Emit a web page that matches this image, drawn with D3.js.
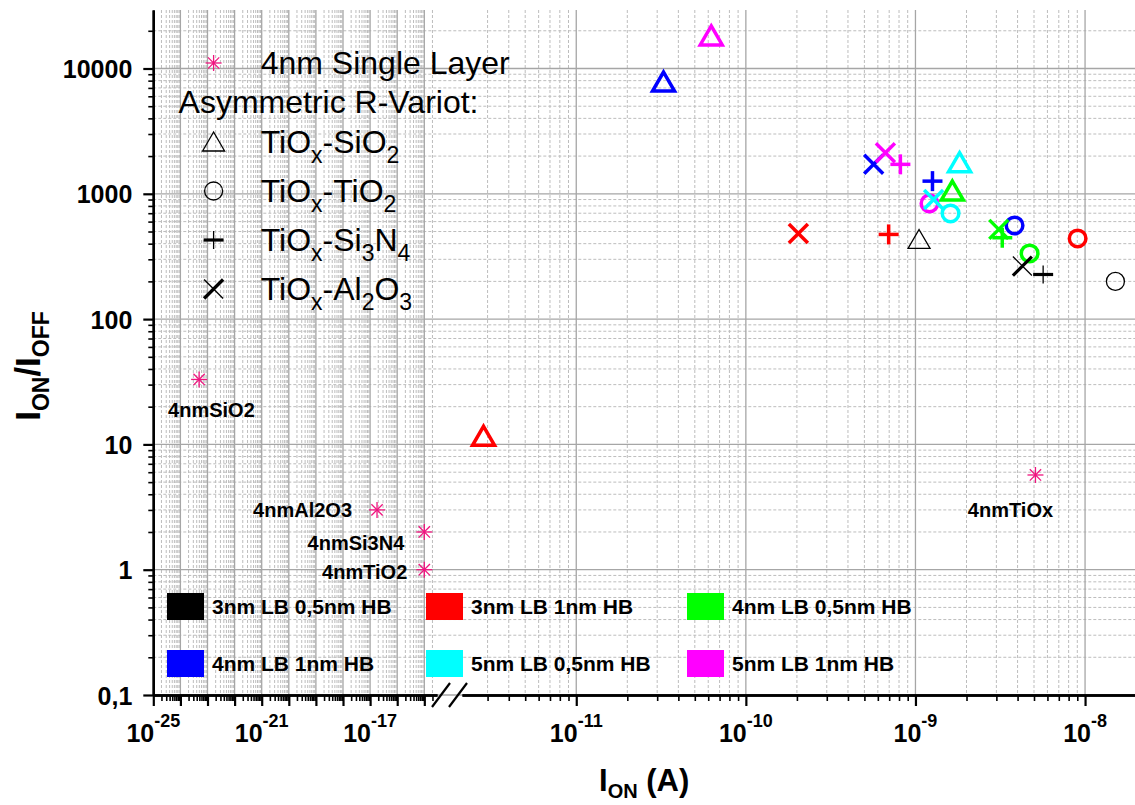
<!DOCTYPE html>
<html><head><meta charset="utf-8">
<script src="https://cdn.jsdelivr.net/npm/d3@7/dist/d3.min.js"></script>
<style>
body{margin:0;background:#fff}
svg{display:block;font-family:"Liberation Sans",Arial,Helvetica,sans-serif}
</style></head>
<body><svg id="chart" width="1135" height="805"></svg>
<script>
// ---------------- data ----------------
const seriesNames  = ["3nm LB 0,5nm HB","3nm LB 1nm HB","4nm LB 0,5nm HB","4nm LB 1nm HB","5nm LB 0,5nm HB","5nm LB 1nm HB"];
const seriesColors = ["#000000","#ff0000","#00ff00","#0000ff","#00ffff","#ff00ff"];

// I_ON (A) and I_ON/I_OFF for each bilayer stack, one entry per series (order as seriesNames)
const sio2Ion    = [1.05e-9, 2.84e-12, 1.65e-9, 3.27e-11, 1.82e-9, 6.25e-11];
const sio2Ratio  = [432, 11.6, 1051, 7800, 1772, 18190];
const tio2Ion    = [1.51e-8, 9.04e-9, 4.71e-9, 3.84e-9, 1.61e-9, 1.21e-9];
const tio2Ratio  = [200, 440, 334, 559, 697, 838];
const si3n4Ion   = [5.66e-9, 6.95e-10, 3.25e-9, 1.26e-9, null, 8.15e-10];
const si3n4Ratio = [227, 474, 446, 1262, null, 1718];
const al2o3Ion   = [4.27e-9, 2.04e-10, 3.10e-9, 5.67e-10, 1.28e-9, 6.65e-10];
const al2o3Ratio = [265, 483, 520, 1718, 902, 2130];

// 4nm single layers
const singleLabels = ["4nmSiO2","4nmAl2O3","4nmSi3N4","4nmTiO2","4nmTiOx"];
const singleIon    = [4.9e-24, 1.8e-17, 1e-15, 1e-15, 5.1e-9];
const singleRatio  = [33, 3, 2, 1, 5.7];

// axis ticks / labels
const yTickValues = [0.1, 1, 10, 100, 1000, 10000];
const yTickLabels = ["0,1", "1", "10", "100", "1000", "10000"];
const xLeftLabelExps  = [-25, -21, -17];
const xRightLabelExps = [-11, -10, -9, -8];
const xLeftDomain  = [1e-25, 2.94e-15];
const xRightDomain = [2.12e-12, 1.97e-8];
const yDomain = [0.1, 29300];

const stackNames = [
  [["TiO",0],["x",1],["-SiO",0],["2",1]],
  [["TiO",0],["x",1],["-TiO",0],["2",1]],
  [["TiO",0],["x",1],["-Si",0],["3",1],["N",0],["4",1]],
  [["TiO",0],["x",1],["-Al",0],["2",1],["O",0],["3",1]]
];
const stackSymbols = ["tri","circ","plus","cross"];
const titleSingle = "4nm Single Layer";
const titleAsym = "Asymmetric R-Variot:";

// ---------------- layout ----------------
const svg = d3.select("#chart");
const PL = 153.3, PB = 695, PT = 10, PR = 1135;
const LEFT_END = 437, RIGHT_START = 462;
const xL = d3.scaleLog().domain(xLeftDomain).range([PL, LEFT_END]);
const xR = d3.scaleLog().domain(xRightDomain).range([RIGHT_START, PR]);
const y  = d3.scaleLog().domain(yDomain).range([PB, PT]);
const xPos = v => (v < 1e-13 ? xL(v) : xR(v));

function decadeTicks(domain, major) {
  const lo = Math.floor(Math.log10(domain[0])) , hi = Math.ceil(Math.log10(domain[1]));
  const out = [];
  for (let e = lo; e <= hi; e++) {
    for (let m = (major ? 1 : 2); m <= (major ? 1 : 9); m++) {
      const v = m * Math.pow(10, e);
      if (v >= domain[0] * 0.999 && v <= domain[1] * 1.001) out.push(v);
    }
  }
  return out;
}
const xLMajor = decadeTicks(xLeftDomain, true),  xLMinor = decadeTicks(xLeftDomain, false);
const xRMajor = decadeTicks(xRightDomain, true), xRMinor = decadeTicks(xRightDomain, false);
const yMajor = decadeTicks(yDomain, true), yMinor = decadeTicks(yDomain, false);

// ---------------- grid ----------------
const grid = svg.append("g");
const minorStyle = s => s.attr("stroke", "#bdbdbd").attr("stroke-width", 1).attr("stroke-dasharray", "3,2");
const majorStyle = s => s.attr("stroke", "#a6a6a6").attr("stroke-width", 1.3);

grid.selectAll(".vminL").data(xLMinor).join("line").attr("x1", xL).attr("x2", xL).attr("y1", PT).attr("y2", PB).call(minorStyle);
grid.selectAll(".vminR").data(xRMinor).join("line").attr("x1", xR).attr("x2", xR).attr("y1", PT).attr("y2", PB).call(minorStyle);
grid.selectAll(".hmin").data(yMinor).join("line").attr("x1", PL).attr("x2", PR).attr("y1", y).attr("y2", y).call(minorStyle);
grid.selectAll(".vmajL").data(xLMajor).join("line").attr("x1", xL).attr("x2", xL).attr("y1", PT).attr("y2", PB).call(majorStyle);
grid.selectAll(".vmajR").data(xRMajor).join("line").attr("x1", xR).attr("x2", xR).attr("y1", PT).attr("y2", PB).call(majorStyle);
grid.selectAll(".hmaj").data(yMajor).join("line").attr("x1", PL).attr("x2", PR).attr("y1", y).attr("y2", y).call(majorStyle);

// ---------------- axes ----------------
function styleAxis(g, width) {
  g.select(".domain").attr("stroke", "#000").attr("stroke-width", width);
  g.selectAll(".tick line").attr("stroke", "#000").attr("stroke-width", 1.6);
}
// x left
svg.append("g").attr("transform", `translate(0,${PB})`)
  .call(d3.axisBottom(xL).tickValues(xLMinor).tickSize(6).tickSizeOuter(0).tickFormat(""))
  .call(g => styleAxis(g, 2.4));
svg.append("g").attr("transform", `translate(0,${PB})`)
  .call(d3.axisBottom(xL).tickValues(xLMajor).tickSize(11).tickSizeOuter(0).tickFormat(""))
  .call(g => { styleAxis(g, 2.4); g.selectAll(".tick line").attr("stroke-width", 2.2); });
// x right
svg.append("g").attr("transform", `translate(0,${PB})`)
  .call(d3.axisBottom(xR).tickValues(xRMinor).tickSize(6).tickSizeOuter(0).tickFormat(""))
  .call(g => styleAxis(g, 2.4));
svg.append("g").attr("transform", `translate(0,${PB})`)
  .call(d3.axisBottom(xR).tickValues(xRMajor).tickSize(11).tickSizeOuter(0).tickFormat(""))
  .call(g => { styleAxis(g, 2.4); g.selectAll(".tick line").attr("stroke-width", 2.2); });

// break marks
const brk = svg.append("g").attr("stroke", "#000").attr("stroke-width", 2.2);
brk.append("line").attr("x1", LEFT_END - 5).attr("y1", PB + 12).attr("x2", LEFT_END + 13).attr("y2", PB - 12);
brk.append("line").attr("x1", LEFT_END + 12).attr("y1", PB + 12).attr("x2", LEFT_END + 30).attr("y2", PB - 12);

// x tick labels
function expLabels(scale, exps) {
  const g = svg.append("g").attr("font-weight", "bold").attr("fill", "#000");
  exps.forEach(e => {
    const t = g.append("text").attr("x", scale(Math.pow(10, e))).attr("y", PB + 47)
      .attr("text-anchor", "middle").attr("font-size", 25);
    t.append("tspan").text("10");
    t.append("tspan").attr("dy", -15).attr("font-size", 18).text(String(e));
  });
}
expLabels(xL, xLeftLabelExps);
expLabels(xR, xRightLabelExps);

// y axis
svg.append("g").attr("transform", `translate(${PL},0)`)
  .call(d3.axisLeft(y).tickValues(yMinor).tickSize(5).tickSizeOuter(0).tickFormat(""))
  .call(g => styleAxis(g, 2.4));
svg.append("g").attr("transform", `translate(${PL},0)`)
  .call(d3.axisLeft(y).tickValues(yTickValues).tickSize(10).tickPadding(11).tickSizeOuter(0)
        .tickFormat((d, i) => yTickLabels[i]))
  .call(g => {
    styleAxis(g, 2.4);
    g.selectAll(".tick line").attr("stroke-width", 2.2);
    g.selectAll(".tick text").attr("font-size", 25).attr("font-weight", "bold")
      .attr("font-family", '"Liberation Sans",Arial,sans-serif').attr("fill", "#000").attr("dy", "0.36em");
  });

// axis titles
const xt = svg.append("text").attr("x", (PL + PR) / 2).attr("y", 791).attr("text-anchor", "middle")
  .attr("font-weight", "bold").attr("font-size", 31);
xt.append("tspan").text("I");
xt.append("tspan").attr("font-size", 20).attr("dy", 7).text("ON");
xt.append("tspan").attr("dy", -7).text(" (A)");

const yt = svg.append("text").attr("transform", "translate(40,366) rotate(-90)").attr("text-anchor", "middle")
  .attr("font-weight", "bold").attr("font-size", 35);
yt.append("tspan").text("I");
yt.append("tspan").attr("font-size", 23).attr("dy", 9).text("ON");
yt.append("tspan").attr("dy", -9).text("/I");
yt.append("tspan").attr("font-size", 23).attr("dy", 9).text("OFF");

// ---------------- markers ----------------
const STAR = "#f0147f";
function marker(g, type, cx, cy, color, thin) {
  const sw = thin ? 1.3 : 3.5;
  if (type === "tri") {
    g.append("path").attr("d", `M${cx},${cy - 10}L${cx + 11},${cy + 9}L${cx - 11},${cy + 9}Z`)
      .attr("fill", "none").attr("stroke", color).attr("stroke-width", sw);
  } else if (type === "circ") {
    g.append("circle").attr("cx", cx).attr("cy", cy).attr("r", thin ? 9 : 8.3)
      .attr("fill", "none").attr("stroke", color).attr("stroke-width", sw);
  } else if (type === "plus") {
    const a = 10;
    g.append("line").attr("x1", cx - a).attr("x2", cx + a).attr("y1", cy).attr("y2", cy)
      .attr("stroke", color).attr("stroke-width", thin ? 3.2 : sw);
    g.append("line").attr("x1", cx).attr("x2", cx).attr("y1", cy - (thin ? 9 : a)).attr("y2", cy + (thin ? 9 : a))
      .attr("stroke", color).attr("stroke-width", sw);
  } else if (type === "cross") {
    const a = 9.5;
    g.append("line").attr("x1", cx - a).attr("y1", cy + a).attr("x2", cx + a).attr("y2", cy - a)
      .attr("stroke", color).attr("stroke-width", thin ? 3.2 : sw);
    g.append("line").attr("x1", cx - a).attr("y1", cy - a).attr("x2", cx + a).attr("y2", cy + a)
      .attr("stroke", color).attr("stroke-width", sw);
  } else if (type === "star") {
    const r = 8;
    const s = r * Math.SQRT1_2;
    [[0, -r, 0, r], [-r, 0, r, 0], [-s, -s, s, s], [-s, s, s, -s]].forEach(p =>
      g.append("line").attr("x1", cx + p[0]).attr("y1", cy + p[1]).attr("x2", cx + p[2]).attr("y2", cy + p[3])
        .attr("stroke", color).attr("stroke-width", 1.3));
  }
}

// ---------------- legends ----------------
// top-left symbol legend
const lg = svg.append("g").attr("fill", "#000");
marker(lg, "star", 213.6, 63, STAR, true);
lg.append("text").attr("x", 260.7).attr("y", 74).attr("font-size", 32).text(titleSingle);
lg.append("text").attr("x", 178.6).attr("y", 113).attr("font-size", 32).text(titleAsym);
stackNames.forEach((parts, i) => {
  const cy = 142 + i * 49;
  marker(lg, stackSymbols[i], 213.6, cy, "#000", true);
  const t = lg.append("text").attr("x", 260.7).attr("y", cy + 11).attr("font-size", 32);
  let sub = false;
  parts.forEach(([s, isSub]) => {
    const ts = t.append("tspan").text(s);
    if (isSub && !sub) { ts.attr("dy", 10).attr("font-size", 23); sub = true; }
    else if (isSub) { ts.attr("font-size", 23); }
    else if (sub) { ts.attr("dy", -10); sub = false; }
  });
});

// colour legend (bottom)
const colX = [167, 426, 687], rowY = [593, 650];
const cl = svg.append("g");
seriesNames.forEach((name, i) => {
  const cx = colX[i % 3], cy = rowY[Math.floor(i / 3)];
  cl.append("rect").attr("x", cx).attr("y", cy).attr("width", 37).attr("height", 27).attr("fill", seriesColors[i]);
  cl.append("text").attr("x", cx + 45).attr("y", cy + 21).attr("font-size", 21).attr("font-weight", "bold")
    .attr("fill", "#000").text(name);
});

// ---------------- data marks ----------------
const marks = svg.append("g");
const stacks = [[sio2Ion, sio2Ratio], [tio2Ion, tio2Ratio], [si3n4Ion, si3n4Ratio], [al2o3Ion, al2o3Ratio]];
stacks.forEach(([ion, ratio], k) => {
  ion.forEach((v, i) => {
    if (v == null) return;
    marker(marks, stackSymbols[k], xPos(v), y(ratio[i]), seriesColors[i], i === 0);
  });
});

// single layers
const labelPlace = [[-31, 38, "start"], [-25, 7, "end"], [-20, 18, "end"], [-17, 9, "end"], [-25, 42, "middle"]];
singleIon.forEach((v, i) => {
  const px = xPos(v), py = y(singleRatio[i]);
  marker(marks, "star", px, py, STAR, true);
  marks.append("text").attr("x", px + labelPlace[i][0]).attr("y", py + labelPlace[i][1])
    .attr("text-anchor", labelPlace[i][2]).attr("font-size", 20).attr("font-weight", "bold")
    .attr("fill", "#000").text(singleLabels[i]);
});
</script></body></html>
